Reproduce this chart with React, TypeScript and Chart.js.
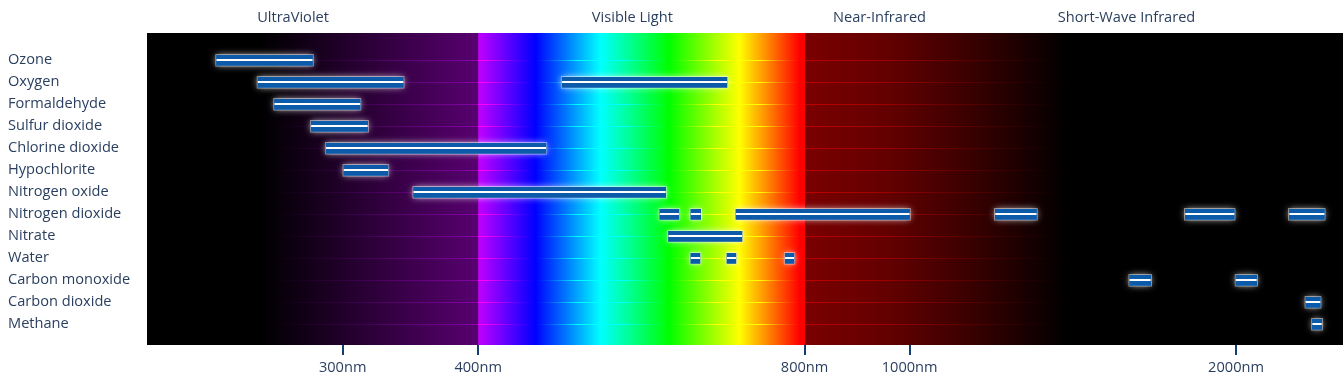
import React, { useEffect, useRef } from 'react';
import { Chart, registerables } from 'chart.js';

Chart.register(...registerables);

// ---------- data ----------
const categories = [
  'Ozone',
  'Oxygen',
  'Formaldehyde',
  'Sulfur dioxide',
  'Chlorine dioxide',
  'Hypochlorite',
  'Nitrogen oxide',
  'Nitrogen dioxide',
  'Nitrate',
  'Water',
  'Carbon monoxide',
  'Carbon dioxide',
  'Methane',
];

// absorption bands: gas index, start (nm), end (nm)
const bandGas = [0, 1, 1, 2, 3, 4, 5, 6, 7, 7, 7, 7, 7, 7, 8, 9, 9, 9, 10, 10, 11, 12];
const bandStartNm = [229, 250, 477, 259, 280, 289, 300, 348, 587, 627, 690, 1197, 1792, 2235, 598, 627, 677, 766, 1592, 1995, 2314, 2347];
const bandEndNm = [282, 342, 680, 312, 317, 463, 331, 597, 614, 643, 1002, 1312, 1997, 2418, 702, 642, 693, 784, 1672, 2094, 2397, 2404];

const xTickValues = [300, 400, 800, 1000, 2000];
const xMinNm = 198;
const xMaxNm = 2510;

const regionNames = ['UltraViolet', 'Visible Light', 'Near-Infrared', 'Short-Wave Infrared'];
const regionLabelNm = [270, 555, 938, 1585];

// ---------- styles ----------
const FONT = "'Open Sans', 'Noto Sans', sans-serif";
const FONT_SIZE = 14.6;
const TEXT = '#2a3f5f';
const BAR = 'rgb(11,91,170)';

const spectrumPlugin = {
  id: 'spectrum',
  beforeDraw(chart: any) {
    const { ctx, chartArea: a, scales } = chart;
    const x = scales.x;
    const w = a.right - a.left;
    const clamp = (v: number) => Math.min(1, Math.max(0, v));
    const f = (nm: number) => clamp((x.getPixelForValue(nm) - a.left) / w);
    const p400 = x.getPixelForValue(400);
    const p800 = x.getPixelForValue(800);
    const vis = (t: number) => clamp((p400 + t * (p800 - p400) - a.left) / w);
    const g = ctx.createLinearGradient(a.left, 0, a.right, 0);
    g.addColorStop(0, 'rgb(0,0,0)');
    g.addColorStop(f(252), 'rgb(0,0,0)');
    g.addColorStop(f(400), 'rgb(88,0,112)');
    g.addColorStop(vis(0) + 0.0004, 'rgb(192,0,255)');
    g.addColorStop(vis(0.175), 'rgb(0,0,255)');
    g.addColorStop(vis(0.375), 'rgb(0,255,255)');
    g.addColorStop(vis(0.585), 'rgb(0,255,0)');
    g.addColorStop(vis(0.8), 'rgb(255,255,0)');
    g.addColorStop(vis(0.985), 'rgb(255,0,0)');
    g.addColorStop(f(800), 'rgb(255,0,0)');
    g.addColorStop(f(800) + 0.0004, 'rgb(122,0,0)');
    g.addColorStop(f(950), 'rgb(100,0,0)');
    g.addColorStop(f(1150), 'rgb(55,0,0)');
    g.addColorStop(f(1400), 'rgb(0,0,0)');
    g.addColorStop(1, 'rgb(0,0,0)');
    chart.$spectrum = g;
    ctx.save();
    ctx.fillStyle = g;
    ctx.fillRect(a.left, a.top, w, a.bottom - a.top);
    ctx.restore();
  },
  beforeDatasetsDraw(chart: any) {
    const { ctx, chartArea: a, scales } = chart;
    const y = scales.y;
    // row grid lines, brightened version of the spectrum
    ctx.save();
    ctx.beginPath();
    ctx.rect(a.left, a.top, a.right - a.left, a.bottom - a.top);
    ctx.clip();
    ctx.globalCompositeOperation = 'lighter';
    ctx.globalAlpha = 0.55;
    ctx.strokeStyle = chart.$spectrum;
    ctx.lineWidth = 1;
    ctx.beginPath();
    categories.forEach((_, i) => {
      const yy = Math.round(y.getPixelForValue(i)) + 0.5;
      ctx.moveTo(a.left, yy);
      ctx.lineTo(a.right, yy);
    });
    ctx.stroke();
    ctx.restore();
    // glow behind bars
    const meta = chart.getDatasetMeta(0);
    ctx.save();
    ctx.shadowColor = 'rgba(255,255,255,0.8)';
    ctx.shadowBlur = 7;
    ctx.fillStyle = BAR;
    meta.data.forEach((el: any) => {
      const p = el.getProps(['x', 'y', 'base', 'height'], true);
      const l = Math.min(p.x, p.base);
      const r = Math.max(p.x, p.base);
      ctx.fillRect(l + 1, p.y - p.height / 2 + 1, r - l - 2, p.height - 2);
    });
    ctx.restore();
  },
  afterDatasetsDraw(chart: any) {
    const { ctx } = chart;
    const meta = chart.getDatasetMeta(0);
    ctx.save();
    ctx.strokeStyle = '#ffffff';
    ctx.lineWidth = 2;
    ctx.beginPath();
    meta.data.forEach((el: any) => {
      const p = el.getProps(['x', 'y', 'base'], true);
      const l = Math.min(p.x, p.base);
      const r = Math.max(p.x, p.base);
      const yy = Math.round(p.y);
      ctx.moveTo(l + 1, yy);
      ctx.lineTo(r - 1, yy);
    });
    ctx.stroke();
    ctx.restore();
  },
  afterDraw(chart: any) {
    const { ctx, scales } = chart;
    const x = scales.x;
    ctx.save();
    ctx.font = `${FONT_SIZE}px ${FONT}`;
    ctx.fillStyle = TEXT;
    ctx.textAlign = 'center';
    ctx.textBaseline = 'middle';
    regionNames.forEach((name, i) => {
      ctx.fillText(name, x.getPixelForValue(regionLabelNm[i]), 18);
    });
    ctx.restore();
  },
};

export default function App() {
  const ref = useRef<HTMLCanvasElement>(null);
  useEffect(() => {
    document.body.style.margin = '0';
    const canvas = ref.current!;
    const chart = new Chart(canvas, {
      type: 'bar',
      data: {
        datasets: [
          {
            data: bandGas.map((g, i) => ({ y: g, x: [bandStartNm[i], bandEndNm[i]] })) as any,
            backgroundColor: BAR,
            borderColor: 'rgba(255,255,255,0.45)',
            borderWidth: 1,
            borderSkipped: false,
            barThickness: 12,
            grouped: false,
          },
        ],
      },
      options: {
        indexAxis: 'y',
        animation: false,
        responsive: false,
        events: [],
        layout: { padding: { left: 8, top: 33, right: 0, bottom: 0 } },
        plugins: {
          legend: { display: false },
          tooltip: { enabled: false },
          title: { display: false },
        },
        scales: {
          x: {
            type: 'logarithmic',
            position: 'bottom',
            min: xMinNm,
            max: xMaxNm,
            bounds: 'data',
            offset: false,
            afterBuildTicks: (s: any) => {
              s.ticks = xTickValues.map((v) => ({ value: v, major: false }));
            },
            afterFit: (s: any) => {
              s.height = 45;
            },
            grid: {
              drawOnChartArea: false,
              drawTicks: true,
              tickLength: 10,
              color: '#123f70',
              lineWidth: 2,
              offset: false,
            },
            border: { display: false },
            ticks: {
              autoSkip: false,
              maxRotation: 0,
              padding: 4,
              color: TEXT,
              font: { family: FONT, size: FONT_SIZE },
              callback: (v: any) => `${v}nm`,
            },
          },
          y: {
            type: 'linear',
            reverse: true,
            min: -1.241,
            max: 12.941,
            bounds: 'data',
            offset: false,
            afterBuildTicks: (s: any) => {
              s.ticks = categories.map((_, i) => ({ value: i }));
            },
            afterFit: (s: any) => {
              s.width = 139;
            },
            grid: { display: false, offset: false },
            border: { display: false },
            ticks: {
              autoSkip: false,
              crossAlign: 'far',
              padding: 0,
              color: TEXT,
              font: { family: FONT, size: FONT_SIZE },
              callback: (v: any) => categories[v] ?? '',
            },
          },
        },
      } as any,
      plugins: [spectrumPlugin],
    });
    return () => chart.destroy();
  }, []);
  return (
    <canvas
      ref={ref}
      width={1343}
      height={390}
      style={{ display: 'block', width: '1343px', height: '390px' }}
    />
  );
}
